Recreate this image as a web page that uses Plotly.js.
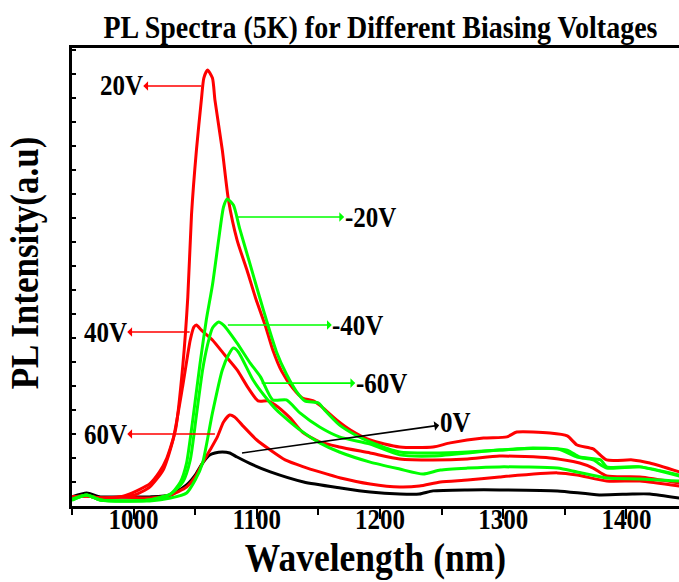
<!DOCTYPE html>
<html><head><meta charset="utf-8">
<script src="https://cdn.plot.ly/plotly-3.0.1.min.js"></script>
<style>html,body{margin:0;padding:0;background:#fff}#chart{width:679px;height:582px}</style>
</head><body><div id="chart"></div>
<script>
// Wavelength (nm) and PL intensity (a.u.)
const wl20 = [950, 962, 973, 989, 997, 1013, 1021, 1027, 1034, 1040, 1044, 1047, 1051, 1055, 1057, 1060, 1064, 1066, 1072, 1077, 1084, 1092, 1099, 1107, 1113, 1120, 1129, 1137, 1146, 1151, 1165, 1176, 1192, 1216, 1243, 1257, 1284, 1303, 1311, 1338, 1352, 1360, 1373, 1384, 1405, 1419, 1443];
const pl20 = [0.38, 0.42, 0.33, 0.38, 0.5, 0.92, 1.42, 2.0, 3.17, 5.88, 8.71, 12.13, 14.83, 16.92, 17.83, 18.17, 17.83, 16.92, 14.83, 12.75, 11.08, 9.83, 8.67, 7.5, 6.5, 5.63, 4.92, 4.5, 4.38, 4.21, 3.58, 3.17, 2.75, 2.46, 2.46, 2.63, 2.83, 2.88, 3.08, 3.04, 2.92, 2.54, 2.38, 1.92, 1.92, 1.79, 1.42];

const wlm20 = [950, 962, 973, 997, 1013, 1030, 1038, 1043, 1048, 1054, 1059, 1064, 1069, 1073, 1076, 1081, 1086, 1094, 1102, 1109, 1116, 1124, 1132, 1139, 1150, 1155, 1167, 1180, 1192, 1216, 1243, 1271, 1297, 1324, 1352, 1362, 1379, 1384, 1411, 1443];
const plm20 = [0.29, 0.46, 0.25, 0.21, 0.25, 0.5, 1.0, 1.79, 3.58, 5.96, 7.75, 9.21, 11.08, 12.46, 12.79, 12.54, 11.58, 10.17, 8.75, 7.54, 6.42, 5.5, 4.79, 4.38, 4.29, 4.0, 3.38, 2.96, 2.67, 2.25, 2.21, 2.25, 2.33, 2.42, 2.33, 2.04, 1.92, 1.63, 1.63, 1.25];

const wl40 = [950, 962, 973, 989, 1001, 1013, 1024, 1032, 1040, 1046, 1049, 1051, 1055, 1064, 1074, 1084, 1093, 1101, 1109, 1115, 1127, 1137, 1151, 1167, 1192, 1216, 1243, 1271, 1297, 1338, 1362, 1373, 1384, 1411, 1443];
const pl40 = [0.38, 0.42, 0.33, 0.38, 0.46, 0.79, 1.5, 2.75, 5.04, 6.92, 7.46, 7.54, 7.33, 6.92, 6.29, 5.67, 4.92, 4.38, 4.38, 4.21, 3.67, 3.08, 2.67, 2.46, 2.21, 1.96, 1.92, 1.96, 2.08, 2.0, 1.79, 1.58, 1.25, 1.21, 0.96];

const wlm40 = [950, 962, 973, 997, 1013, 1030, 1040, 1046, 1051, 1056, 1060, 1064, 1069, 1073, 1084, 1094, 1103, 1113, 1124, 1135, 1151, 1167, 1192, 1216, 1243, 1271, 1297, 1344, 1360, 1373, 1384, 1411, 1443];
const plm40 = [0.25, 0.46, 0.25, 0.21, 0.25, 0.5, 1.0, 1.92, 3.79, 5.67, 6.71, 7.42, 7.67, 7.54, 6.79, 6.0, 5.38, 4.42, 4.42, 3.88, 3.29, 2.88, 2.58, 2.13, 2.08, 2.21, 2.33, 2.38, 2.04, 1.92, 1.58, 1.63, 1.29];

const wlm60 = [950, 962, 973, 997, 1013, 1030, 1043, 1050, 1056, 1064, 1072, 1077, 1081, 1085, 1097, 1107, 1116, 1135, 1151, 1167, 1192, 1216, 1235, 1249, 1271, 1297, 1344, 1360, 1384, 1411, 1443];
const plm60 = [0.25, 0.46, 0.25, 0.21, 0.21, 0.33, 0.54, 1.08, 1.79, 3.88, 5.67, 6.29, 6.58, 6.42, 5.25, 4.54, 4.0, 3.17, 2.63, 2.25, 1.83, 1.54, 1.33, 1.5, 1.58, 1.63, 1.58, 1.42, 1.17, 1.13, 1.04];

const wl60 = [950, 962, 973, 989, 1013, 1030, 1043, 1050, 1056, 1062, 1068, 1073, 1078, 1082, 1088, 1100, 1111, 1123, 1138, 1151, 1168, 1192, 1216, 1232, 1249, 1271, 1297, 1344, 1360, 1384, 1411, 1443];
const pl60 = [0.38, 0.42, 0.33, 0.38, 0.33, 0.46, 0.79, 1.21, 1.79, 2.33, 2.88, 3.5, 3.79, 3.71, 3.38, 2.75, 2.33, 1.92, 1.63, 1.42, 1.17, 0.92, 0.79, 0.83, 1.0, 1.08, 1.21, 1.38, 1.29, 1.04, 1.04, 0.83];

const wl0 = [950, 962, 973, 989, 1013, 1030, 1043, 1050, 1056, 1062, 1066, 1072, 1078, 1084, 1097, 1111, 1138, 1168, 1192, 1216, 1232, 1243, 1271, 1297, 1344, 1378, 1405, 1419, 1443];
const pl0 = [0.38, 0.54, 0.38, 0.38, 0.38, 0.46, 0.88, 1.29, 1.79, 2.13, 2.21, 2.25, 2.21, 2.04, 1.71, 1.42, 1.0, 0.75, 0.58, 0.5, 0.5, 0.63, 0.67, 0.67, 0.63, 0.46, 0.5, 0.5, 0.33];

const labels = ['20V', '-20V', '40V', '-40V', '-60V', '60V', '0V'];

const F = 'Liberation Serif, Times New Roman, serif';
const RED = '#ff0000', GREEN = '#00ff00', BLACK = '#000000';

function tr(x, y, color, name) {
  return {type: 'scatter', mode: 'lines', x: x, y: y, name: name, hoverinfo: 'skip',
          line: {color: color, width: 3, shape: 'spline', smoothing: 0.6}};
}

const data = [
  tr(wl0, pl0, BLACK, '0V'),
  tr(wl60, pl60, RED, '60V'),
  tr(wl40, pl40, RED, '40V'),
  tr(wl20, pl20, RED, '20V'),
  tr(wlm60, plm60, GREEN, '-60V'),
  tr(wlm40, plm40, GREEN, '-40V'),
  tr(wlm20, plm20, GREEN, '-20V')
];

function ann(text, color, px, py, tx, ty) {
  return {text: text, x: px, y: py, ax: tx, ay: ty, xref: 'x', yref: 'y', axref: 'x', ayref: 'y',
          showarrow: true, arrowside: 'start', arrowhead: 2, arrowsize: 1, arrowwidth: 1.6,
          arrowcolor: color, standoff: 0, startstandoff: 0, borderpad: 0,
          font: {family: F, size: 25, weight: 'bold', color: 'black'}};
}

const annotations = [
  ann(labels[0], RED, 1055, 17.5, 990, 17.5),
  ann(labels[1], GREEN, 1084.5, 12.04, 1192, 12.04),
  ann(labels[2], RED, 1045.5, 7.25, 977, 7.25),
  ann(labels[3], GREEN, 1076.5, 7.54, 1182, 7.54),
  ann(labels[4], GREEN, 1104, 5.12, 1201, 5.12),
  ann(labels[5], RED, 1066, 3.0, 977, 3.0),
  ann(labels[6], BLACK, 1088, 2.21, 1261, 3.46)
];

const layout = {
  width: 679, height: 582,
  margin: {l: 72, r: 0, t: 48, b: 76},
  paper_bgcolor: 'white', plot_bgcolor: 'white',
  showlegend: false,
  title: {text: 'PL Spectra (5K) for Different Biasing Voltages',
          font: {family: F, size: 28, weight: 'bold', color: 'black'},
          x: 0.5604, xanchor: 'center', y: 0.954, yanchor: 'middle'},
  xaxis: {range: [950, 1442.7], showline: true, linecolor: 'black', linewidth: 3, mirror: true,
          ticks: 'outside', ticklen: 10, tickwidth: 2, tickcolor: 'black', tick0: 1000, dtick: 100,
          minor: {ticks: 'outside', ticklen: 6, tickwidth: 2, tickcolor: 'black', tick0: 950, dtick: 50},
          showgrid: false, zeroline: false, ticklabelstandoff: -21,
          tickfont: {family: F, size: 25, weight: 'bold', color: 'black'},
          title: {text: 'Wavelength (nm)', standoff: 13,
                  font: {family: F, size: 35.5, weight: 'bold', color: 'black'}}},
  xaxis2: {overlaying: 'x', side: 'top', range: [950, 1442.7], ticks: 'inside', ticklen: 3,
           tickwidth: 1.5, tickcolor: 'black', tick0: 950, dtick: 50, showticklabels: false,
           showline: false, showgrid: false, zeroline: false},
  yaxis: {range: [0, 19.083], showline: true, linecolor: 'black', linewidth: 3,
          ticks: 'inside', ticklen: 4, tickwidth: 1.5, tickcolor: 'black', tick0: 0, dtick: 1,
          showticklabels: false, showgrid: false, zeroline: false,
          title: {text: 'PL Intensity(a.u)', standoff: 22,
                  font: {family: F, size: 35, weight: 'bold', color: 'black'}}},
  annotations: annotations
};

Plotly.newPlot('chart', data, layout, {staticPlot: true, displayModeBar: false}).then(function (gd) {
  // the reference glyphs are a little taller than Times: stretch text vertically about its centre
  const S = 1.15;
  gd.querySelectorAll('.gtitle, .xtitle, .ytitle, .xtick text, .annotation-text').forEach(function (el) {
    const b = el.getBBox();
    const cy = b.y + b.height / 2;
    let t = el.getAttribute('transform') || '';
    let extra = '';
    if (el.classList.contains('ytitle')) extra = ' translate(14 0)';
    el.setAttribute('transform', t + extra + ' translate(0 ' + cy + ') scale(1 ' + S + ') translate(0 ' + (-cy) + ')');
  });
});
</script>
</body></html>
